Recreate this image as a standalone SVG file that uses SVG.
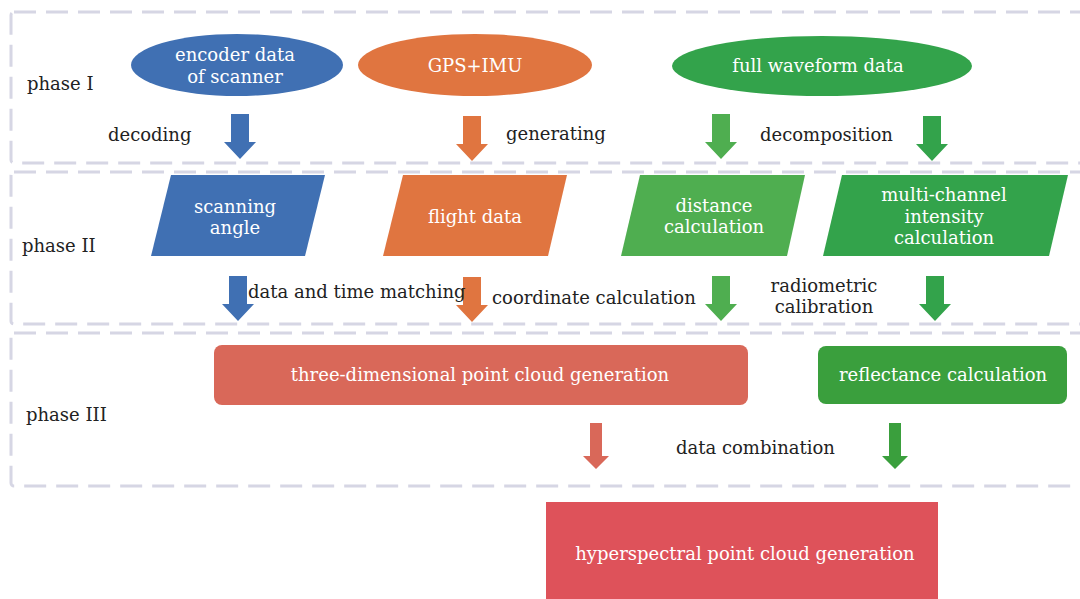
<svg xmlns="http://www.w3.org/2000/svg" xmlns:xlink="http://www.w3.org/1999/xlink" width="1080" height="599" viewBox="0 0 1080 599">
<style>
.phase{fill:none;stroke:#d6d6e4;stroke-width:3;stroke-dasharray:22 10}
.nt{font-family:"DejaVu Serif","Liberation Serif",serif;font-size:18px;fill:#ffffff;text-anchor:middle}
.lb{font-family:"DejaVu Serif","Liberation Serif",serif;font-size:18px;fill:#222222}
.lbm{text-anchor:middle}
.blue{fill:#4070b3}
.orange{fill:#e07540}
.green{fill:#33a34b}
.lgreen{fill:#4fae50}
.dgreen{fill:#3a9f3d}
.salmon{fill:#d96859}
.red{fill:#de525a}
</style>
<defs>
<path id="arr" d="M -9 0 H 9 V 28 H 16 L 0 45 L -16 28 H -9 Z"/>
<path id="arr2" d="M -6 0 H 6 V 33 H 13 L 0 46 L -13 33 H -6 Z"/>
</defs>
<rect width="1080" height="599" fill="#ffffff"/>
<g id="phases">
<rect class="phase" x="11" y="12" width="1080" height="151" rx="3"/>
<rect class="phase" x="11" y="172" width="1080" height="152" rx="3"/>
<rect class="phase" x="11" y="333" width="1080" height="153" rx="3"/>
<text class="lb" x="27" y="90">phase I</text>
<text class="lb" x="22" y="252">phase II</text>
<text class="lb" x="26" y="421">phase III</text>
</g>
<g id="encoder">
<ellipse class="blue" cx="237" cy="65" rx="106" ry="31"/>
<text class="nt" x="235" y="61">encoder data</text>
<text class="nt" x="235" y="83">of scanner</text>
</g>
<g id="gpsimu">
<ellipse class="orange" cx="475" cy="65" rx="117" ry="31"/>
<text class="nt" x="475" y="72">GPS+IMU</text>
</g>
<g id="waveform">
<ellipse class="green" cx="822" cy="66" rx="150" ry="30"/>
<text class="nt" x="818" y="72">full waveform data</text>
</g>
<g id="scanning">
<polygon class="blue" points="171,175 325,175 305,256 151,256"/>
<text class="nt" x="235" y="213">scanning</text>
<text class="nt" x="235" y="234">angle</text>
</g>
<g id="flight">
<polygon class="orange" points="403,175 567,175 548,256 383,256"/>
<text class="nt" x="475" y="223">flight data</text>
</g>
<g id="distance">
<polygon class="lgreen" points="640,175 805,175 787,256 621,256"/>
<text class="nt" x="714" y="212">distance</text>
<text class="nt" x="714" y="233">calculation</text>
</g>
<g id="intensity">
<polygon class="green" points="842,175 1068,175 1049,256 823,256"/>
<text class="nt" x="944" y="201">multi-channel</text>
<text class="nt" x="944" y="223">intensity</text>
<text class="nt" x="944" y="244">calculation</text>
</g>
<g id="pointcloud">
<rect class="salmon" x="214" y="345" width="534" height="60" rx="8"/>
<text class="nt" x="480" y="381">three-dimensional point cloud generation</text>
</g>
<g id="reflectance">
<rect class="dgreen" x="818" y="346" width="249" height="58" rx="8"/>
<text class="nt" x="943" y="381">reflectance calculation</text>
</g>
<g id="hyperspectral">
<rect class="red" x="546" y="502" width="392" height="97"/>
<text class="nt" x="745" y="560">hyperspectral point cloud generation</text>
</g>
<g id="connectors">
<use xlink:href="#arr" class="blue" x="240" y="114"/>
<use xlink:href="#arr" class="orange" x="472" y="116"/>
<use xlink:href="#arr" class="lgreen" x="721" y="114"/>
<use xlink:href="#arr" class="green" x="932" y="116"/>
<use xlink:href="#arr" class="blue" x="238" y="276"/>
<use xlink:href="#arr" class="orange" x="472" y="277"/>
<use xlink:href="#arr" class="lgreen" x="721" y="276"/>
<use xlink:href="#arr" class="green" x="935" y="276"/>
<use xlink:href="#arr2" class="salmon" x="596" y="423"/>
<use xlink:href="#arr2" class="dgreen" x="895" y="423"/>
<text class="lb" x="108" y="141">decoding</text>
<text class="lb" x="506" y="140">generating</text>
<text class="lb" x="760" y="141">decomposition</text>
<text class="lb" x="248" y="298">data and time matching</text>
<text class="lb" x="492" y="304">coordinate calculation</text>
<text class="lb lbm" x="824" y="292">radiometric</text>
<text class="lb lbm" x="824" y="313">calibration</text>
<text class="lb" x="676" y="454">data combination</text>
</g>
</svg>
